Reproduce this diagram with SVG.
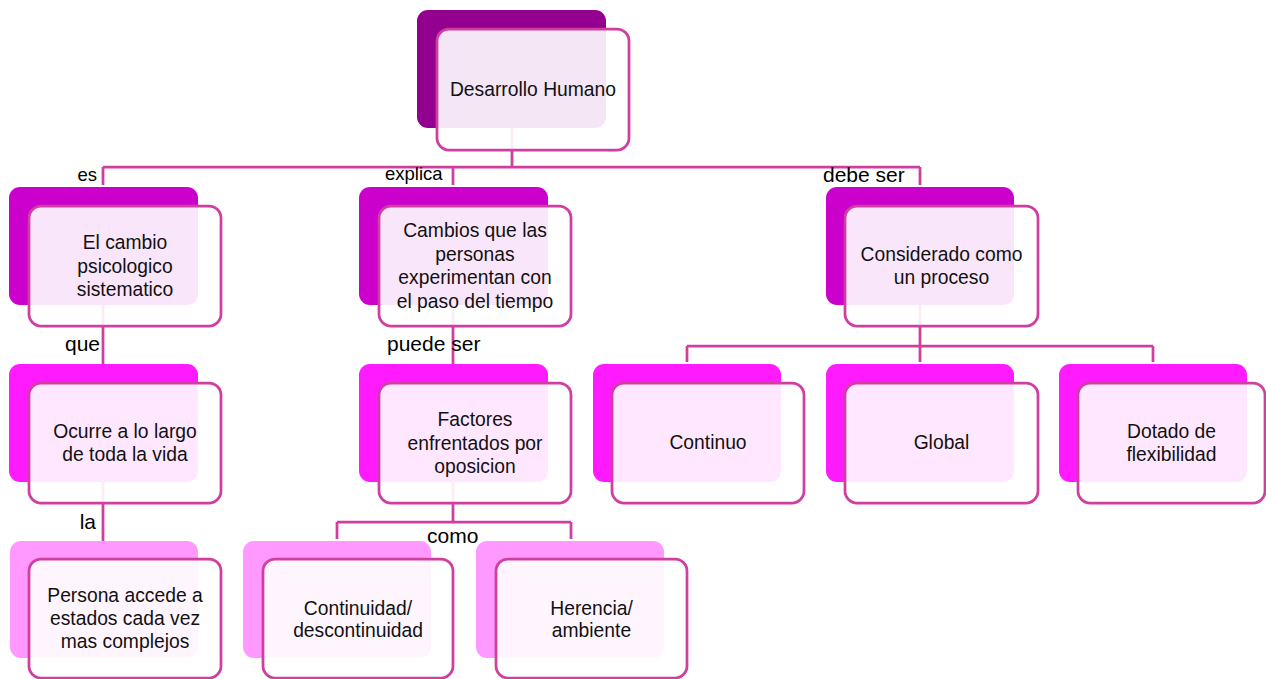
<svg xmlns="http://www.w3.org/2000/svg" width="1266" height="679" viewBox="0 0 1266 679">
<style>
.bk{stroke:none}
.l0{fill:#93008F}
.l1{fill:#CC00CC}
.l2{fill:#FF1AFF}
.l3{fill:#FF99FF}
.fr{fill:#FFFFFF;fill-opacity:0.9;stroke:#CF3FA0;stroke-width:2.75}
.cn{fill:none;stroke:#CF3FA0;stroke-width:2.75}
.t{font-family:"Liberation Sans",Arial,sans-serif;font-size:19.3px;fill:#111;text-anchor:middle}
.lb{font-family:"Liberation Sans",Arial,sans-serif;fill:#000}
.s{font-size:18.5px}
.b{font-size:21px}
</style>
<rect width="1266" height="679" fill="#FFFFFF"/>
<g id="connectors">
<path class="cn" d="M512 128V167M103 167H920M103 167V185M453 167V185M920 167V185"/>
<path class="cn" d="M103 305V364M453 305V364"/>
<path class="cn" d="M920 305V346M687 346H1153M687 346V362M920 346V362M1153 346V362"/>
<path class="cn" d="M103 482V541"/>
<path class="cn" d="M453 482V522M337 522H571M337 522V539M571 522V539"/>
</g>
<g id="labels">
<text class="lb s" x="97" y="181" text-anchor="end">es</text>
<text class="lb s" x="385" y="180">explica</text>
<text class="lb b" x="823" y="182">debe ser</text>
<text class="lb b" x="100" y="351" text-anchor="end">que</text>
<text class="lb b" x="387" y="351">puede ser</text>
<text class="lb b" x="96" y="529" text-anchor="end">la</text>
<text class="lb b" x="427" y="543">como</text>
</g>
<g id="n-desarrollo">
<rect class="bk l0" x="417" y="10" width="189" height="118" rx="11"/>
<rect class="fr" x="437" y="29" width="192" height="121" rx="12"/>
<text class="t" x="533" y="96">Desarrollo Humano</text>
</g>
<g id="n-cambio">
<rect class="bk l1" x="9" y="187" width="189" height="118" rx="11"/>
<rect class="fr" x="29" y="206" width="192" height="120" rx="12"/>
<text class="t" x="125" y="249">El cambio</text>
<text class="t" x="125" y="272.5">psicologico</text>
<text class="t" x="125" y="296">sistematico</text>
</g>
<g id="n-cambios">
<rect class="bk l1" x="359" y="187" width="189" height="118" rx="11"/>
<rect class="fr" x="379" y="206" width="192" height="120" rx="12"/>
<text class="t" x="475" y="237">Cambios que las</text>
<text class="t" x="475" y="260.5">personas</text>
<text class="t" x="475" y="284">experimentan con</text>
<text class="t" x="475" y="307.5">el paso del tiempo</text>
</g>
<g id="n-considerado">
<rect class="bk l1" x="826" y="187" width="188" height="118" rx="11"/>
<rect class="fr" x="845" y="206" width="193" height="120" rx="12"/>
<text class="t" x="941.5" y="261">Considerado como</text>
<text class="t" x="941.5" y="284">un proceso</text>
</g>
<g id="n-ocurre">
<rect class="bk l2" x="9" y="364" width="189" height="118" rx="11"/>
<rect class="fr" x="29" y="383" width="192" height="120" rx="12"/>
<text class="t" x="125" y="438">Ocurre a lo largo</text>
<text class="t" x="125" y="461">de toda la vida</text>
</g>
<g id="n-factores">
<rect class="bk l2" x="359" y="364" width="189" height="118" rx="11"/>
<rect class="fr" x="379" y="383" width="192" height="120" rx="12"/>
<text class="t" x="475" y="426">Factores</text>
<text class="t" x="475" y="449.5">enfrentados por</text>
<text class="t" x="475" y="473">oposicion</text>
</g>
<g id="n-continuo">
<rect class="bk l2" x="593" y="364" width="188" height="118" rx="11"/>
<rect class="fr" x="612" y="383" width="192" height="120" rx="12"/>
<text class="t" x="708" y="449">Continuo</text>
</g>
<g id="n-global">
<rect class="bk l2" x="826" y="364" width="188" height="118" rx="11"/>
<rect class="fr" x="845" y="383" width="193" height="120" rx="12"/>
<text class="t" x="941.5" y="449">Global</text>
</g>
<g id="n-dotado">
<rect class="bk l2" x="1059" y="364" width="188" height="118" rx="11"/>
<rect class="fr" x="1078" y="383" width="187" height="120" rx="12"/>
<text class="t" x="1171.5" y="438">Dotado de</text>
<text class="t" x="1171.5" y="461">flexibilidad</text>
</g>
<g id="n-persona">
<rect class="bk l3" x="10" y="541" width="188" height="117" rx="11"/>
<rect class="fr" x="29" y="559" width="192" height="119" rx="12"/>
<text class="t" x="125" y="602">Persona accede a</text>
<text class="t" x="125" y="625">estados cada vez</text>
<text class="t" x="125" y="648">mas complejos</text>
</g>
<g id="n-continuidad">
<rect class="bk l3" x="243" y="541" width="188" height="117" rx="11"/>
<rect class="fr" x="263" y="559" width="190" height="119" rx="12"/>
<text class="t" x="358" y="615">Continuidad/</text>
<text class="t" x="358" y="637">descontinuidad</text>
</g>
<g id="n-herencia">
<rect class="bk l3" x="476" y="541" width="188" height="117" rx="11"/>
<rect class="fr" x="496" y="559" width="191" height="119" rx="12"/>
<text class="t" x="591.5" y="615">Herencia/</text>
<text class="t" x="591.5" y="637">ambiente</text>
</g>
</svg>
